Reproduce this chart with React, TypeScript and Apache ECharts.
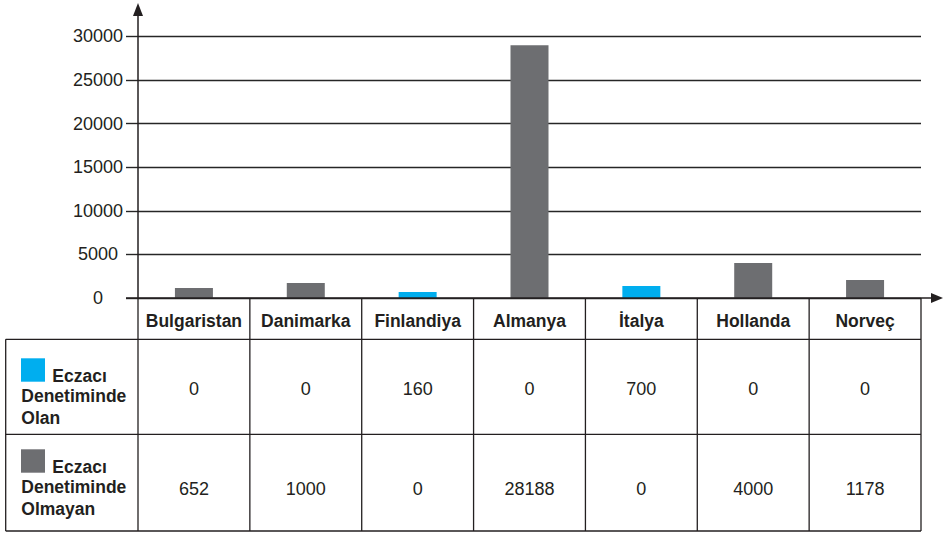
import React, { useEffect, useRef } from "react";
import * as echarts from "echarts";

// ---- data ----
const categories = ["Bulgaristan", "Danimarka", "Finlandiya", "Almanya", "İtalya", "Hollanda", "Norveç"];
// bar heights as drawn in the picture
const barOlan = [0, 0, 690, 0, 1380, 0, 0];
const barOlmayan = [1150, 1720, 0, 28980, 0, 4010, 2060];
// values printed in the data table
const tableOlan = [0, 0, 160, 0, 700, 0, 0];
const tableOlmayan = [652, 1000, 0, 28188, 0, 4000, 1178];
const rowLabelOlan = ["Eczacı", "Denetiminde", "Olan"];
const rowLabelOlmayan = ["Eczacı", "Denetiminde", "Olmayan"];
const yMax = 30000;
const yInterval = 5000;

// ---- layout / style ----
const W = 943;
const H = 535;
const GL = 138;
const GR = 921;
const GT = 36.3;
const GB = 298;
const TABLE_LEFT = 5.7;
const ROW1_BOTTOM = 339.3;
const ROW2_BOTTOM = 434.3;
const TABLE_BOTTOM = 531;
const BLUE = "#00AEEF";
const GREY = "#6D6E71";
const INK = "#231F20";
const FONT = "'Liberation Sans', Arial, sans-serif";
const FS = 18;
const FS_BOLD = 17.5;

export default function App() {
  const ref = useRef<HTMLDivElement>(null);

  useEffect(() => {
    document.body.style.margin = "0";
    if (!ref.current) return;
    const chart = echarts.init(ref.current, undefined, { renderer: "svg" });

    const colW = (GR - GL) / categories.length;
    const colX = (i: number) => GL + i * colW;
    const lw = 1.3;
    const graphics: any[] = [];
    const line = (x1: number, y1: number, x2: number, y2: number, w = lw) =>
      graphics.push({
        type: "line",
        silent: true,
        z: 10,
        shape: { x1, y1, x2, y2 },
        style: { stroke: INK, lineWidth: w },
      });

    // axes with arrows
    line(GL, GB, GL, 14, 1.5);
    graphics.push({
      type: "polygon",
      z: 10,
      silent: true,
      shape: { points: [[GL, 3], [GL - 5, 16], [GL + 5, 16]] },
      style: { fill: INK },
    });
    line(126, GB, 932, GB, 1.5);
    graphics.push({
      type: "polygon",
      z: 10,
      silent: true,
      shape: { points: [[943, GB], [931, GB - 5], [931, GB + 5]] },
      style: { fill: INK },
    });

    // table grid
    for (let i = 0; i <= categories.length; i++) line(colX(i), GB, colX(i), TABLE_BOTTOM);
    line(TABLE_LEFT, ROW1_BOTTOM, TABLE_LEFT, TABLE_BOTTOM);
    line(TABLE_LEFT, ROW1_BOTTOM, GR, ROW1_BOTTOM);
    line(TABLE_LEFT, ROW2_BOTTOM, GR, ROW2_BOTTOM);
    line(TABLE_LEFT, TABLE_BOTTOM, GR, TABLE_BOTTOM);

    const text = (t: string, x: number, y: number, opts: any = {}) =>
      graphics.push({
        type: "text",
        z: 11,
        silent: true,
        x,
        y,
        style: {
          text: t,
          fill: INK,
          fontSize: opts.bold ? FS_BOLD : FS,
          fontWeight: opts.bold ? "bold" : "normal",
          fontFamily: FONT,
          align: opts.align ?? "center",
          verticalAlign: "middle",
          textAlign: opts.align ?? "center",
          textVerticalAlign: "middle",
        },
      });

    // table values
    categories.forEach((_, i) => {
      const cx = colX(i) + colW / 2;
      text(String(tableOlan[i]), cx, 389.3);
      text(String(tableOlmayan[i]), cx, 488.8);
    });

    // row headers
    const rowHeader = (labels: string[], color: string, sqTop: number, ys: number[]) => {
      graphics.push({
        type: "rect",
        z: 11,
        silent: true,
        shape: { x: 21, y: sqTop, width: 24, height: 23.4 },
        style: { fill: color },
      });
      text(labels[0], 52.3, ys[0], { bold: true, align: "left" });
      text(labels[1], 21.3, ys[1], { bold: true, align: "left" });
      text(labels[2], 21.3, ys[2], { bold: true, align: "left" });
    };
    rowHeader(rowLabelOlan, BLUE, 358.3, [375.8, 395.8, 418]);
    rowHeader(rowLabelOlmayan, GREY, 449.3, [466.8, 486.5, 509.2]);

    const option: any = {
      animation: false,
      grid: {
        left: GL,
        right: W - GR,
        top: GT,
        bottom: H - GB,
        containLabel: false,
        outerBoundsMode: "none",
      },
      xAxis: {
        type: "category",
        data: categories,
        axisLine: { show: false },
        axisTick: { show: false },
        axisLabel: {
          interval: 0,
          margin: 14,
          color: INK,
          fontFamily: FONT,
          fontSize: FS_BOLD,
          fontWeight: "bold",
        },
      },
      yAxis: {
        type: "value",
        min: 0,
        max: yMax,
        interval: yInterval,
        axisLine: { show: false },
        axisTick: { show: true, length: 12, lineStyle: { color: "#262626", width: 1.4 } },
        splitLine: { show: true, lineStyle: { color: "#262626", width: 1.4 } },
        axisLabel: {
          margin: 15,
          color: INK,
          fontFamily: FONT,
          fontSize: FS,
          formatter: (v: number) =>
            v === 0 ? `{z|${v}}` : v === 5000 ? `{f|${v}}` : `{n|${v}}`,
          rich: {
            n: { fontFamily: FONT, fontSize: FS, color: INK },
            f: { fontFamily: FONT, fontSize: FS, color: INK, padding: [0, 5, 0, 0] },
            z: { fontFamily: FONT, fontSize: FS, color: INK, padding: [0, 20, 0, 0] },
          },
        },
      },
      series: [
        {
          name: "Eczacı Denetiminde Olan",
          type: "bar",
          stack: "total",
          barWidth: 38,
          data: barOlan,
          itemStyle: { color: BLUE },
        },
        {
          name: "Eczacı Denetiminde Olmayan",
          type: "bar",
          stack: "total",
          barWidth: 38,
          data: barOlmayan,
          itemStyle: { color: GREY },
        },
      ],
      graphic: { elements: graphics },
    };

    chart.setOption(option);
    return () => chart.dispose();
  }, []);

  return <div ref={ref} style={{ width: W, height: H, background: "#fff" }} />;
}
